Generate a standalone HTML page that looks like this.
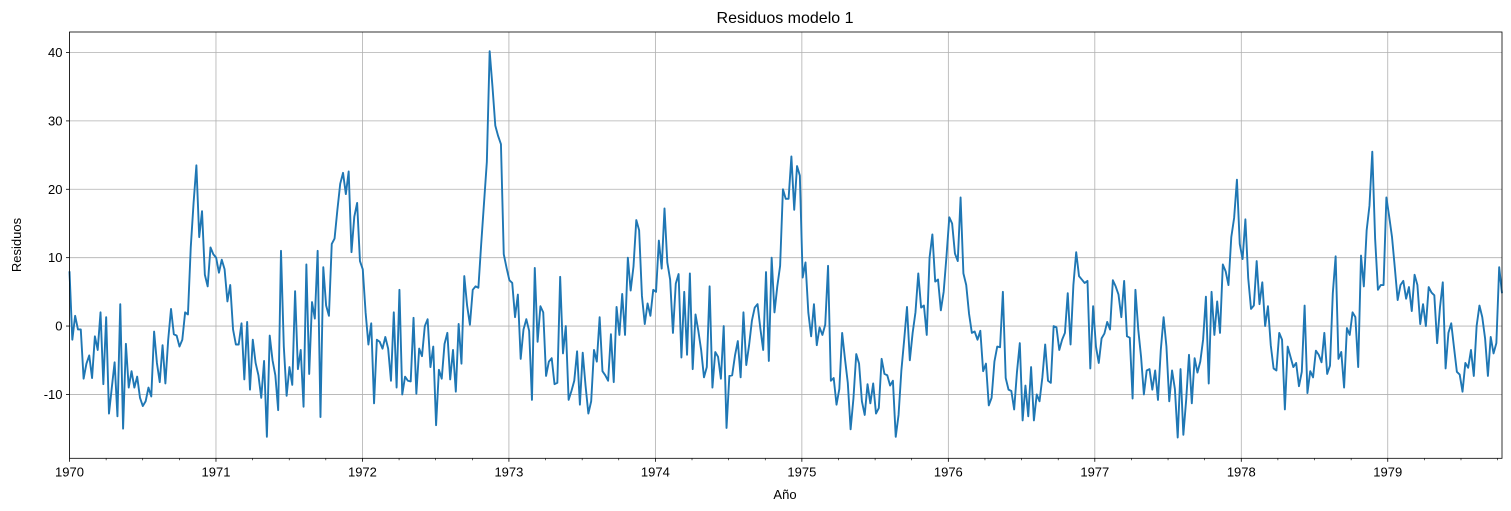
<!DOCTYPE html>
<html><head><meta charset="utf-8"><style>
html,body{margin:0;padding:0;background:#fff;}
svg{display:block;font-family:"Liberation Sans","DejaVu Sans",sans-serif;}
</style></head><body>
<svg id="chart" width="1511" height="511" viewBox="0 0 1511 511" xmlns="http://www.w3.org/2000/svg">
<rect width="1511" height="511" fill="#fff"/>
<text x="785" y="23" text-anchor="middle" font-size="16" fill="#000">Residuos modelo 1</text>
<text x="785" y="499" text-anchor="middle" font-size="13" fill="#000">Año</text>
<text transform="translate(21,245) rotate(-90)" text-anchor="middle" font-size="13" fill="#000">Residuos</text>
<g id="grid"></g>
<g id="series"></g>
<g id="axes"></g>
</svg>
<script>
const yTicks = [-10, 0, 10, 20, 30, 40];
const yearTicks = [1970, 1971, 1972, 1973, 1974, 1975, 1976, 1977, 1978, 1979];
const xDomain = [1970, 1979.78];
const yDomain = [-19.34, 43.0];
const residuals1 = [8,-2,1.5,-0.5,-0.5,-7.7,-5.5,-4.3,-7.6,-1.5,-3.5,2,-8.5,1.3,-12.8,-9,-5.3,-13.2,3.2,-15,-2.6,-9,-6.6,-9,-7.4,-10.5,-11.7,-11,-9,-10.3,-0.8,-5.4,-8.2,-2.8,-8.4,-2,2.5,-1.2,-1.4,-3,-2,2,1.7,11.5,18,23.5,13,16.8,7.5,5.8,11.5,10.5,10,7.8,9.7,8.3,3.6,6,-0.5,-2.7,-2.7,0.4,-7.8,0.6,-9.3,-2,-5.4,-7.2,-10.5,-5.1,-16.2,-1.4,-5,-7.2,-12.3,11,-3,-10.2,-6,-8.6,5.1,-6.3,-3.5,-11.8,9,-7,3.5];
const residuals2 = [1.1,11,-13.3,8.6,3,1.5,12,12.8,17,20.8,22.4,19.3,22.6,10.8,16,18,9.5,8.3,2,-2.7,0.4,-11.3,-2,-2.3,-3.3,-1.6,-3.3,-8,2,-9,5.3,-10,-7.4,-8,-8.1,1.2,-9.9,-3.3,-4.4,0,1,-6,-3,-14.5,-6.4,-7.7,-2.6,-1,-7.8,-3.5,-9.6,0.3,-5.5,7.3,3,0.2,5.3,5.8,5.6,12,18,24,40.2,35,29.3,27.8,26.6,10.5,8.5,6.7,6.3,1.3,4.6,-4.8,-0.5,1,-0.7,-10.8,8.5,-2.3,2.9,2,-7.3,-5.2,-4.7];
const residuals3 = [-8.5,-8.3,7.2,-4,0,-10.8,-9.5,-8,-3.7,-11.5,-3.9,-8.7,-12.8,-11,-3.5,-5.2,1.3,-6.6,-7.2,-8,-1.2,-8.2,2.8,-1.3,4.7,-1.3,10,5.2,8.7,15.5,14,4.4,0.3,3.3,1.5,5.3,5,12.5,8.4,17.2,9.3,6.8,-1,6.2,7.6,-4.6,5,-4.2,7.7,-6.3,1.7,-0.7,-3.5,-7.5,-6,5.8,-9,-3.8,-4.5,-7.7,0,-14.9,-7.3,-7.2,-4.3,-2.2,-7.5,2,-5.7,-2.8,0.8,2.7,3.2,-0.4,-3.5,7.9,-5.1,10,2,5.8,8.8,20,18.6,18.6,24.8,17];
const residuals4 = [23.4,22,7.1,9.3,2,-1.5,3.2,-2.8,-0.2,-1.3,0.2,8.8,-8,-7.6,-11.5,-9.2,-1,-4.8,-8.3,-15.1,-10.6,-4.1,-5.5,-11,-13,-8.5,-11.3,-8.4,-12.8,-12,-4.8,-7,-7.2,-8.7,-8,-16.2,-13,-6.5,-2,2.8,-5,-1,2,7.7,2.7,3,-1.3,10,13.4,6.5,6.8,2.3,5,10.2,15.9,15,10.6,9.5,18.8,7.7,6,1.8,-1,-0.8,-2,-0.7,-6.6,-5.5,-11.6,-10.5,-5.2,-3,-3.1,5,-7.6,-9.3,-9.5,-12.2,-6.7,-2.5,-13.8,-8.7,-13.2];
const residuals5 = [-6,-13.8,-10,-11,-7.5,-2.7,-8,-8.3,0,-0.2,-3.5,-2,-1,4.8,-2.7,6,10.8,7.3,6.8,6.3,6.6,-6.2,2.9,-3,-5.4,-1.8,-1.1,0.6,-0.5,6.7,5.8,4.6,1.3,6.6,-1.5,-1.7,-10.6,5.3,-0.5,-4.5,-10,-6.5,-6.3,-9.3,-6.5,-10.8,-3.5,1.3,-3,-11,-6.5,-9.2,-16.3,-6.3,-15.9,-10.8,-4.2,-11.3,-4.7,-6.8,-5.2,-2,4.3,-8.4,5,-1.3,3.6,-1,9,8,6,13,15.8,21.4,12,9.8,15.6,7,2.5,3,9.5,3.2,6.4,0,2.9,-2.8,-6.2];
const residuals6 = [-6.5,-1,-2,-12.2,-3,-4.5,-6,-5.4,-8.8,-6.7,3,-9.8,-6.6,-7.5,-3.6,-4.2,-5.3,-1,-7,-5.8,4.8,10.2,-4.8,-3.8,-9,-0.3,-1.3,2,1.3,-6,10.3,5.8,14,17.6,25.5,12.8,5.3,6,6,18.8,16,13,8.5,3.8,6,6.6,4,5.7,2.2,7.5,6,0.3,3.2,0,5.7,4.9,4.5,-2.5,2.7,6.4,-6.2,-1,0.4,-3.2,-6.7,-7.1,-9.6,-5.4,-6.1,-3.5,-7.3,0,3,1.3,-1.8,-7.3,-1.6,-4,-2.5,8.6,4.8];

const NS = "http://www.w3.org/2000/svg";
const plot = {left: 69.5, right: 1502, top: 32, bottom: 458.3};
function xScale(v){ return plot.left + (v - xDomain[0]) / (xDomain[1] - xDomain[0]) * (plot.right - plot.left); }
function yScale(v){ return plot.bottom - (v - yDomain[0]) / (yDomain[1] - yDomain[0]) * (plot.bottom - plot.top); }
function mk(tag, attrs, parent){ const e = document.createElementNS(NS, tag); for (const k in attrs) e.setAttribute(k, attrs[k]); parent.appendChild(e); return e; }

const grid = document.getElementById('grid');
const axes = document.getElementById('axes');
const series = document.getElementById('series');

yTicks.forEach(t => {
  const y = yScale(t);
  const gl = mk('line', {x1: plot.left, x2: plot.right, y1: y, y2: y, stroke: '#b0b0b0', 'stroke-width': 0.8}, grid);
  
  
  const tk = mk('line', {x1: plot.left - 3.5, x2: plot.left, y1: y, y2: y, stroke: '#000', 'stroke-width': 0.8}, axes);
  
  
  const lb = mk('text', {x: plot.left - 7, y: y + 4.5, 'text-anchor': 'end', 'font-size': 13, fill: '#000'}, axes);
  lb.textContent = t;
  
  
});

yearTicks.forEach(t => {
  const x = xScale(t);
  const gl = mk('line', {x1: x, x2: x, y1: plot.top, y2: plot.bottom, stroke: '#b0b0b0', 'stroke-width': 0.8}, grid);
  
  
  const tk = mk('line', {x1: x, x2: x, y1: plot.bottom, y2: plot.bottom + 3.5, stroke: '#000', 'stroke-width': 0.8}, axes);
  
  
  const lb = mk('text', {x: x, y: plot.bottom + 18, 'text-anchor': 'middle', 'font-size': 13, fill: '#000'}, axes);
  lb.textContent = t;
  
  
  for (let q = 1; q < 4; q++) {
    const v = t + q / 4;
    if (v > xDomain[1]) break;
    const mx = xScale(v);
    const mt = mk('line', {x1: mx, x2: mx, y1: plot.bottom, y2: plot.bottom + 2, stroke: '#000', 'stroke-width': 0.6}, axes);
    
    
  }
});

const values = [].concat(residuals1, residuals2, residuals3, residuals4, residuals5, residuals6);
const n = values.length;
let d = '';
values.forEach((v, i) => {
  const t = xDomain[0] + i * (xDomain[1] - xDomain[0]) / (n - 1);
  d += (i ? 'L' : 'M') + xScale(t).toFixed(2) + ',' + yScale(v).toFixed(2);
});
const line = mk('path', {d: d, fill: 'none', stroke: '#1f77b4', 'stroke-width': 1.9, 'stroke-linejoin': 'round'}, series);



const frame = mk('rect', {x: plot.left, y: plot.top, width: plot.right - plot.left, height: plot.bottom - plot.top, fill: 'none', stroke: '#000', 'stroke-width': 0.8}, axes);


</script>
</body></html>
